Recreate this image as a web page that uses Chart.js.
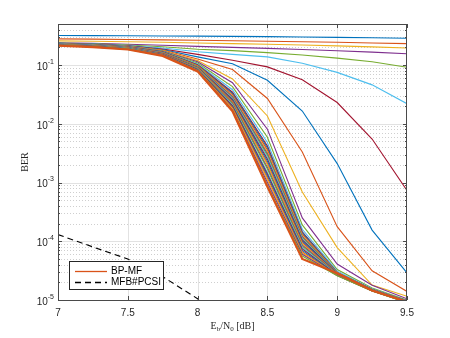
<!DOCTYPE html>
<html>
<head>
<meta charset="utf-8">
<script src="https://cdn.jsdelivr.net/npm/chart.js@4.4.1/dist/chart.umd.min.js"></script>
<style>
  html, body { margin: 0; padding: 0; background: #fff; }
</style>
</head>
<body>
<canvas id="ber" width="450" height="338"></canvas>
<script>
// Eb/N0 grid (dB)
const snr = [7, 7.25, 7.5, 7.75, 8, 8.25, 8.5, 8.75, 9, 9.25, 9.5];

// BP-MF, first iterations (one row per iteration)
const bpmfEarly = [
  [0.318, 0.317, 0.315, 0.313, 0.311, 0.308, 0.305, 0.301, 0.296, 0.291, 0.286],
  [0.279, 0.276, 0.272, 0.268, 0.264, 0.259, 0.254, 0.249, 0.244, 0.238, 0.232],
  [0.258, 0.254, 0.249, 0.244, 0.238, 0.232, 0.226, 0.219, 0.212, 0.204, 0.195],
  [0.240, 0.234, 0.226, 0.217, 0.208, 0.200, 0.192, 0.184, 0.175, 0.166, 0.156],
  [0.236, 0.229, 0.219, 0.205, 0.186, 0.176, 0.163, 0.148, 0.131, 0.114, 0.092],
  [0.235, 0.227, 0.215, 0.195, 0.168, 0.152, 0.138, 0.107, 0.075, 0.046, 0.022],
  [0.234, 0.226, 0.212, 0.188, 0.152, 0.121, 0.093, 0.056, 0.023, 0.0055, 0.00073],
  [0.234, 0.225, 0.210, 0.184, 0.138, 0.105, 0.055, 0.0165, 0.0021, 0.000155, 0.000029],
  [0.233, 0.224, 0.209, 0.180, 0.127, 0.084, 0.027, 0.0033, 0.000177, 0.0000315, 0.000014],
  [0.233, 0.223, 0.208, 0.177, 0.119, 0.058, 0.0136, 0.00069, 0.000078, 0.000018, 0.0000116],
  [0.233, 0.223, 0.207, 0.174, 0.114, 0.050, 0.0081, 0.00025, 0.000041, 0.0000178, 0.0000105],
  [0.232, 0.222, 0.206, 0.172, 0.108, 0.043, 0.0059, 0.00019, 0.000033, 0.000016, 0.0000100],
  [0.232, 0.222, 0.206, 0.170, 0.104, 0.038, 0.0048, 0.00016, 0.000031, 0.0000155, 0.0000098]
];

// BP-MF, later iterations bunched together
const bpmfLate = [
  [0.233, 0.222, 0.205, 0.168, 0.101, 0.0345, 0.0042, 0.000145, 0.0000295, 0.0000152, 0.0000097],
  [0.232, 0.221, 0.203, 0.166, 0.099, 0.0330, 0.0039, 0.000140, 0.0000294, 0.0000151, 0.0000097],
  [0.231, 0.220, 0.202, 0.165, 0.098, 0.0315, 0.0036, 0.000132, 0.0000292, 0.0000151, 0.0000096],
  [0.230, 0.219, 0.201, 0.163, 0.096, 0.0300, 0.0033, 0.000125, 0.0000290, 0.0000150, 0.0000096],
  [0.229, 0.218, 0.200, 0.162, 0.095, 0.0290, 0.0031, 0.000120, 0.0000288, 0.0000150, 0.0000095],
  [0.228, 0.217, 0.199, 0.160, 0.094, 0.0280, 0.0029, 0.000115, 0.0000286, 0.0000149, 0.0000095],
  [0.227, 0.216, 0.198, 0.159, 0.092, 0.0270, 0.0027, 0.000110, 0.0000284, 0.0000149, 0.0000095],
  [0.226, 0.215, 0.197, 0.157, 0.091, 0.0260, 0.0025, 0.000105, 0.0000282, 0.0000148, 0.0000094],
  [0.225, 0.214, 0.196, 0.156, 0.090, 0.0250, 0.0023, 0.000100, 0.0000280, 0.0000148, 0.0000094],
  [0.224, 0.213, 0.195, 0.155, 0.089, 0.0240, 0.0021, 0.000095, 0.0000278, 0.0000147, 0.0000094],
  [0.223, 0.212, 0.194, 0.153, 0.088, 0.0232, 0.0020, 0.000090, 0.0000276, 0.0000147, 0.0000093],
  [0.222, 0.211, 0.193, 0.152, 0.087, 0.0225, 0.0018, 0.000086, 0.0000274, 0.0000146, 0.0000093],
  [0.221, 0.210, 0.192, 0.151, 0.086, 0.0218, 0.0017, 0.000082, 0.0000272, 0.0000146, 0.0000093],
  [0.220, 0.209, 0.191, 0.150, 0.085, 0.0210, 0.0015, 0.000078, 0.0000270, 0.0000145, 0.0000092],
  [0.219, 0.208, 0.190, 0.149, 0.084, 0.0202, 0.0014, 0.000074, 0.0000268, 0.0000145, 0.0000092],
  [0.218, 0.207, 0.189, 0.148, 0.083, 0.0195, 0.0013, 0.000070, 0.0000266, 0.0000144, 0.0000092],
  [0.217, 0.206, 0.188, 0.147, 0.082, 0.0188, 0.0012, 0.000066, 0.0000264, 0.0000144, 0.0000091],
  [0.216, 0.205, 0.187, 0.146, 0.081, 0.0180, 0.0011, 0.000063, 0.0000262, 0.0000143, 0.0000091],
  [0.215, 0.204, 0.186, 0.145, 0.080, 0.0172, 0.0010, 0.000060, 0.0000260, 0.0000143, 0.0000091],
  [0.214, 0.203, 0.185, 0.144, 0.079, 0.0166, 0.0009, 0.000056, 0.0000258, 0.0000142, 0.0000090]
];

// last BP-MF iteration (thick orange)
const bpmfFinal = [0.213, 0.202, 0.184, 0.143, 0.078, 0.0163, 0.00085, 0.000050, 0.0000285, 0.0000145, 0.0000093];

// MFB with perfect CSI (dashed)
const mfbSnr = [7, 7.25, 7.5, 7.75, 8, 8.25];
const mfbPcsi = [1.3e-4, 8.0e-5, 5.0e-5, 2.5e-5, 1.05e-5, 3.5e-6];

// axes
const xTicks = [7, 7.5, 8, 8.5, 9, 9.5];
const xTickLabels = ['7', '7.5', '8', '8.5', '9', '9.5'];
const yTicks = [1e-1, 1e-2, 1e-3, 1e-4, 1e-5];
const yTickExp = ['-1', '-2', '-3', '-4', '-5'];
const yMin = 1e-5, yMax = 0.5;

const matlab = ['#0072BD', '#D95319', '#EDB120', '#7E2F8E', '#77AC30', '#4DBEEE', '#A2142F'];

const pts = (xv, yv) => xv.map((v, i) => ({ x: v, y: yv[i] }));

const datasets = [];
[...bpmfEarly, ...bpmfLate].forEach((row, i) => {
  datasets.push({
    data: pts(snr, row), borderColor: matlab[i % 7], borderWidth: 1.1,
    pointRadius: 0, tension: 0, order: -i
  });
});
datasets.push({
  data: pts(snr, bpmfFinal), borderColor: '#D95319', borderWidth: 2.2,
  pointRadius: 0, tension: 0, order: -100
});
datasets.push({
  data: pts(mfbSnr, mfbPcsi), borderColor: '#000', borderWidth: 1.1, borderDash: [6, 4],
  pointRadius: 0, tension: 0, order: -101
});

function seg(ctx, x1, y1, x2, y2) {
  ctx.beginPath(); ctx.moveTo(x1, y1); ctx.lineTo(x2, y2); ctx.stroke();
}

// grid, box, inward ticks, labels and legend in MATLAB style
const matlabAxes = {
  id: 'matlabAxes',
  beforeDatasetsDraw(chart) {
    const { ctx, chartArea: a, scales: { x, y } } = chart;
    ctx.save();
    ctx.lineWidth = 1;
    // minor y grid (dotted)
    ctx.strokeStyle = '#cfcfcf';
    ctx.setLineDash([1, 2]);
    for (let e = -5; e <= -1; e++) {
      for (let m = 2; m <= 9; m++) {
        const v = m * Math.pow(10, e);
        if (v >= yMax * 0.999) continue;
        const py = Math.round(y.getPixelForValue(v)) + 0.5;
        seg(ctx, a.left, py, a.right, py);
      }
    }
    // major grid
    ctx.setLineDash([]);
    ctx.strokeStyle = '#e2e2e2';
    xTicks.slice(1, -1).forEach(v => {
      const px = Math.round(x.getPixelForValue(v)) + 0.5;
      seg(ctx, px, a.top, px, a.bottom);
    });
    yTicks.slice(0, -1).forEach(v => {
      const py = Math.round(y.getPixelForValue(v)) + 0.5;
      seg(ctx, a.left, py, a.right, py);
    });
    ctx.restore();
  },
  afterDatasetsDraw(chart) {
    const { ctx, chartArea: a, scales: { x, y } } = chart;
    ctx.save();
    // box
    ctx.strokeStyle = '#4a4a4a';
    ctx.lineWidth = 1;
    ctx.strokeRect(Math.round(a.left) + 0.5, Math.round(a.top) + 0.5,
      Math.round(a.right - a.left) - 1, Math.round(a.bottom - a.top));
    // ticks
    xTicks.forEach(v => {
      const px = Math.round(x.getPixelForValue(v)) + 0.5;
      seg(ctx, px, a.bottom, px, a.bottom - 4);
      seg(ctx, px, a.top, px, a.top + 4);
    });
    yTicks.forEach(v => {
      const py = Math.round(y.getPixelForValue(v)) + 0.5;
      seg(ctx, a.left, py, a.left + 4, py);
      seg(ctx, a.right, py, a.right - 4, py);
    });
    for (let e = -5; e <= -1; e++) {
      for (let m = 2; m <= 9; m++) {
        const v = m * Math.pow(10, e);
        if (v >= yMax * 0.999) continue;
        const py = Math.round(y.getPixelForValue(v)) + 0.5;
        seg(ctx, a.left, py, a.left + 2, py);
        seg(ctx, a.right, py, a.right - 2, py);
      }
    }
    // x tick labels
    ctx.fillStyle = '#262626';
    ctx.font = '10px "Liberation Sans", Arial, sans-serif';
    ctx.textAlign = 'center';
    ctx.textBaseline = 'middle';
    xTicks.forEach((v, i) => ctx.fillText(xTickLabels[i], x.getPixelForValue(v), a.bottom + 13));
    // y tick labels 10^n
    yTicks.forEach((v, i) => {
      const py = y.getPixelForValue(v);
      ctx.font = '7px "Liberation Sans", Arial, sans-serif';
      const sw = ctx.measureText(yTickExp[i]).width;
      ctx.textAlign = 'left';
      ctx.fillText(yTickExp[i], a.left - 4 - sw, py - 3);
      ctx.font = '10px "Liberation Sans", Arial, sans-serif';
      ctx.textAlign = 'right';
      ctx.fillText('10', a.left - 4 - sw, py + 2);
    });
    // axis titles
    ctx.font = '10px "Liberation Serif", "Times New Roman", serif';
    ctx.textAlign = 'left';
    const parts = [['E', 0], ['b', 3], ['/N', 0], ['0', 3], [' [dB]', 0]];
    const sub = '7px "Liberation Serif", "Times New Roman", serif';
    const big = '10px "Liberation Serif", "Times New Roman", serif';
    let tw = 0;
    parts.forEach(([t, d]) => { ctx.font = d ? sub : big; tw += ctx.measureText(t).width; });
    let tx = (a.left + a.right) / 2 - tw / 2;
    parts.forEach(([t, d]) => {
      ctx.font = d ? sub : big;
      ctx.fillText(t, tx, a.bottom + 26 + d);
      tx += ctx.measureText(t).width;
    });
    ctx.save();
    ctx.translate(25, (a.top + a.bottom) / 2);
    ctx.rotate(-Math.PI / 2);
    ctx.font = big;
    ctx.textAlign = 'center';
    ctx.fillText('BER', 0, 0);
    ctx.restore();
    // legend
    const lx = a.left + 11, ly = a.bottom - 39, lw = 94, lh = 28;
    ctx.fillStyle = '#fff';
    ctx.fillRect(lx, ly, lw, lh);
    ctx.strokeStyle = '#262626';
    ctx.lineWidth = 1;
    ctx.strokeRect(lx + 0.5, ly + 0.5, lw, lh);
    ctx.lineWidth = 1.3;
    ctx.strokeStyle = '#D95319';
    seg(ctx, lx + 6, ly + 10.5, lx + 38, ly + 10.5);
    ctx.strokeStyle = '#000';
    ctx.setLineDash([6, 4]);
    seg(ctx, lx + 6, ly + 21.5, lx + 38, ly + 21.5);
    ctx.setLineDash([]);
    ctx.fillStyle = '#000';
    ctx.font = '10px "Liberation Sans", Arial, sans-serif';
    ctx.textAlign = 'left';
    ctx.fillText('BP-MF', lx + 42, ly + 10.5);
    ctx.fillText('MFB#PCSI', lx + 42, ly + 21.5);
    ctx.restore();
  }
};

new Chart(document.getElementById('ber'), {
  type: 'line',
  data: { datasets },
  options: {
    responsive: false,
    animation: false,
    layout: { padding: { left: 58, right: 43, top: 24, bottom: 38 } },
    plugins: { legend: { display: false }, tooltip: { enabled: false } },
    scales: {
      x: { type: 'linear', display: false, min: 7, max: 9.5 },
      y: { type: 'logarithmic', display: false, min: yMin, max: yMax }
    }
  },
  plugins: [matlabAxes]
});
</script>
</body>
</html>
